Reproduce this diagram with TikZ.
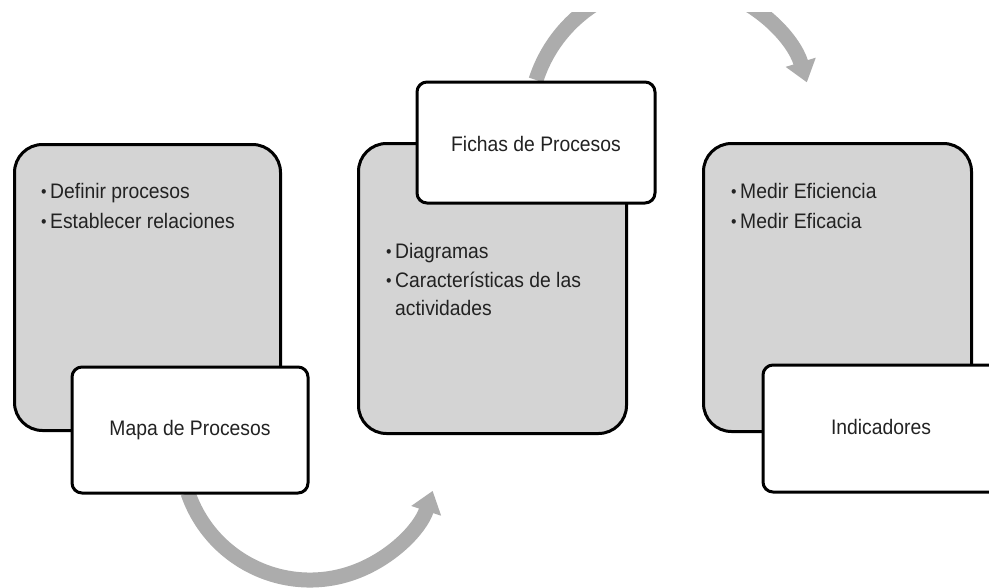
\documentclass[tikz,border=0pt]{standalone}
\usepackage{fontspec}
\setmainfont{Liberation Sans}[FakeStretch=0.92]
\usetikzlibrary{arrows.meta}
\definecolor{boxgray}{RGB}{212,212,212}
\definecolor{arcgray}{RGB}{172,172,172}
\definecolor{txt}{RGB}{34,34,34}
\newcommand{\bul}{\makebox[9pt][l]{\raisebox{1pt}{\fontsize{17}{17}\selectfont•}}}
\begin{document}
\begin{tikzpicture}[x=1pt,y=-1pt,
  graybox/.style={draw=black, line width=3pt, fill=boxgray, rounded corners=28pt, inner sep=0pt},
  whitebox/.style={draw=black, line width=3pt, fill=white, rounded corners=10pt, inner sep=0pt},
  flow/.style={draw=arcgray, line width=15pt, -{Triangle[width=30pt,length=21pt]}},
  item/.style={anchor=base west, inner sep=0pt, text=txt, font=\fontsize{21}{25}\selectfont},
  boxtext/.style={anchor=base, inner sep=0pt, text=txt, font=\fontsize{21}{25}\selectfont}]
\useasboundingbox (0,0) rectangle (989,587);
\clip (0,0) rectangle (989,587);
\fill[white] (0,0) rectangle (989,587);
% connectors (behind boxes)
\coordinate (a1s) at (188,493);
\draw[flow] (a1s) arc[start angle=161, end angle=18, radius=129];
\begin{scope}
  \clip (0,12) rectangle (989,587);
  \coordinate (a2s) at (536,80);
  \draw[flow] (a2s) arc[start angle=-162, end angle=-17, radius=142];
\end{scope}
% gray boxes
\node[graybox, anchor=north west, minimum width=266pt, minimum height=286pt] (g1) at (13,143) {};
\node[graybox, anchor=north west, minimum width=268pt, minimum height=290pt] (g2) at (357,142) {};
\node[graybox, anchor=north west, minimum width=268pt, minimum height=288pt] (g3) at (702,142) {};
% bullet items
\node[item] (i11) at (41,198) {\bul Definir procesos};
\node[item] (i12) at (41,228) {\bul Establecer relaciones};
\node[item] (i21) at (386,258) {\bul Diagramas};
\node[item] (i22) at (386,287) {\bul Características de las};
\node[item] (i23) at (395,315) {actividades};
\node[item] (i31) at (731,198) {\bul Medir Eficiencia};
\node[item] (i32) at (731,228) {\bul Medir Eficacia};
% white boxes
\node[whitebox, minimum width=236pt, minimum height=126pt] (w1) at (190,430) {};
\node[boxtext] (t1) at (190,435) {Mapa de Procesos};
\node[whitebox, minimum width=238pt, minimum height=121pt] (w2) at (536,142.5) {};
\node[boxtext] (t2) at (536,151) {Fichas de Procesos};
\node[whitebox, minimum width=237pt, minimum height=127pt] (w3) at (881.5,428.5) {};
\node[boxtext] (t3) at (881,434) {Indicadores};
\end{tikzpicture}
\end{document}
